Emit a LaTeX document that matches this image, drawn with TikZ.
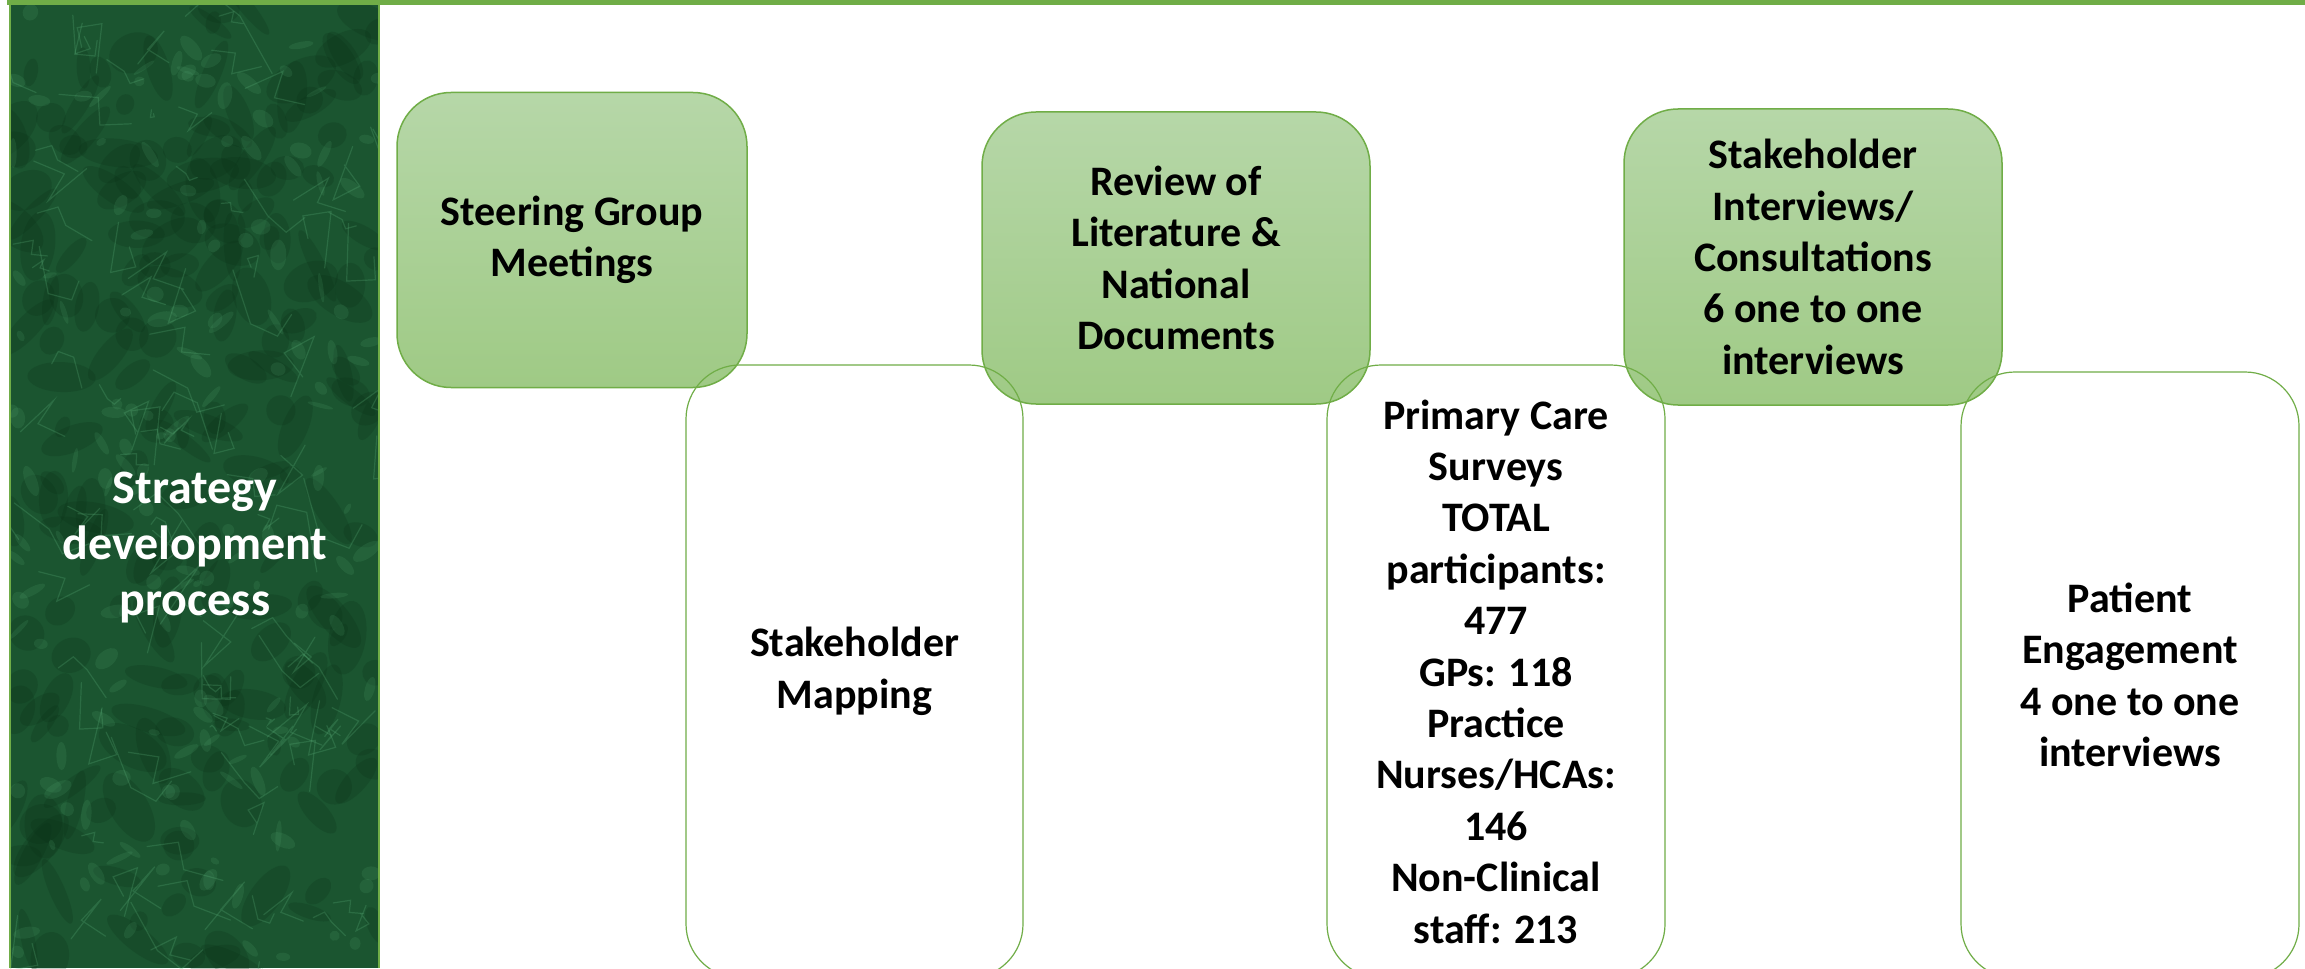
\documentclass[tikz,border=0pt]{standalone}
\usepackage{fontspec}
\setmainfont{Carlito}
\definecolor{gborder}{HTML}{70AD47}
\definecolor{gtop}{HTML}{B6D7A8}
\definecolor{gbot}{HTML}{9FCA85}
\definecolor{marble}{HTML}{1B5530}
\definecolor{marbleD}{HTML}{0A3017}
\definecolor{marbleL}{HTML}{5DB27C}
\tikzset{
  boxtext/.style={align=center, inner sep=0pt, font=\bfseries\fontsize{21}{25.7}\selectfont},
  greenbox/.style={boxtext, draw=gborder, line width=0.75pt, rounded corners=27pt,
    top color=gtop, bottom color=gbot},
  whitebox/.style={boxtext, draw=gborder, line width=0.6pt, rounded corners=27pt},
  titletext/.style={align=center, inner sep=0pt, text=white, font=\bfseries\fontsize{24}{28}\selectfont}
}
\begin{document}
\begin{tikzpicture}[x=0.5pt,y=-0.5pt]
\clip (0,0) rectangle (2305,968);
\fill[white] (0,0) rectangle (2305,968);
% left marble panel
\begin{scope}
  \clip (10,4) rectangle (379,968);
  \fill[marble] (10,4) rectangle (379,968);
  \pgfmathsetseed{7}
  \foreach \i in {1,...,220}{
    \pgfmathsetmacro{\cx}{10+369*rnd}
    \pgfmathsetmacro{\cy}{4+964*rnd}
    \pgfmathsetmacro{\ra}{10+30*rnd}
    \pgfmathsetmacro{\rb}{6+14*rnd}
    \pgfmathsetmacro{\an}{180*rnd}
    \fill[marbleD, opacity=0.22, rotate around={\an:(\cx,\cy)}] (\cx,\cy) ellipse[x radius=\ra, y radius=\rb];
  }
  \foreach \i in {1,...,160}{
    \pgfmathsetmacro{\cx}{10+369*rnd}
    \pgfmathsetmacro{\cy}{4+964*rnd}
    \pgfmathsetmacro{\ra}{4+12*rnd}
    \pgfmathsetmacro{\rb}{2+6*rnd}
    \pgfmathsetmacro{\an}{180*rnd}
    \fill[marbleL, opacity=0.14, rotate around={\an:(\cx,\cy)}] (\cx,\cy) ellipse[x radius=\ra, y radius=\rb];
  }
  \foreach \i in {1,...,110}{
    \pgfmathsetmacro{\cx}{10+369*rnd}
    \pgfmathsetmacro{\cy}{4+964*rnd}
    \pgfmathsetmacro{\dx}{40*rand}
    \pgfmathsetmacro{\dy}{60*rand}
    \draw[marbleL, opacity=0.25, line width=0.6pt, line cap=round] (\cx,\cy) -- ++(\dx,\dy) -- ++(0.5*\dy,0.7*\dx) -- ++(0.8*\dx,-0.4*\dy);
  }
\end{scope}
\draw[gborder, line width=1pt] (10,4) -- (10,968) (379,4) -- (379,968);
\fill[gborder] (7,0) rectangle (2305,5);
\node[titletext] (title) at (195,548) {Strategy\\development\\process};
% green boxes
\node[greenbox, minimum width=175pt, minimum height=147.5pt] (steer) at (572,240) {Steering Group\\Meetings};
\node[greenbox, minimum width=194pt, minimum height=146pt] (review) at (1176,258) {Review of\\Literature \&\\National\\Documents};
\node[greenbox, minimum width=189pt, minimum height=148pt] (interv) at (1813,257) {Stakeholder\\Interviews/\\Consultations\\6 one to one\\interviews};
% white boxes
\node[whitebox, minimum width=168.5pt, minimum height=306.5pt] (mapping) at (854.5,671.5) {Stakeholder\\Mapping};
\node[whitebox, minimum width=169pt, minimum height=306.5pt] (primary) at (1496,671.5) {Primary Care\\Surveys\\TOTAL\\participants:\\477\\GPs: 118\\Practice\\Nurses/HCAs:\\146\\Non-Clinical\\staff: 213};
\node[whitebox, minimum width=169pt, minimum height=303pt] (patient) at (2130,675) {Patient\\Engagement\\4 one to one\\interviews};
\end{tikzpicture}
\end{document}
